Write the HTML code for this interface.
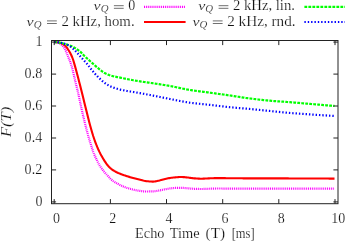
<!DOCTYPE html>
<html><head><meta charset="utf-8"><style>
html,body{margin:0;padding:0;background:#fff;}
svg{display:block;}
text{font-family:"Liberation Serif",serif;font-size:14px;fill:#111;stroke:#fff;stroke-width:.18px;}
.i{font-style:italic;}
</style></head><body>
<svg width="345" height="241" viewBox="0 0 345 241">
<rect width="345" height="241" fill="#fff"/>
<g fill="none" stroke-linejoin="round">
<path d="M54.2,42.10 L55.2,42.15 L56.2,42.27 L57.2,42.44 L58.2,42.70 L59.2,43.16 L60.2,43.72 L61.2,44.42 L62.2,45.30 L63.2,46.41 L64.2,47.86 L65.2,49.56 L66.2,51.68 L67.2,54.13 L68.2,56.72 L69.2,59.25 L70.2,61.76 L71.2,64.56 L72.2,67.99 L73.2,72.13 L74.2,76.55 L75.2,80.83 L76.2,84.93 L77.2,89.03 L78.2,93.25 L79.2,97.73 L80.2,102.50 L81.2,107.27 L82.2,111.75 L83.2,116.03 L84.2,120.17 L85.2,124.21 L86.2,128.16 L87.2,132.03 L88.2,135.73 L89.2,139.20 L90.2,142.44 L91.2,145.55 L92.2,148.65 L93.2,151.78 L94.2,154.49 L95.2,156.67 L96.2,158.78 L97.2,160.93 L98.2,162.98 L99.2,164.83 L100.2,166.44 L101.2,167.91 L102.2,169.28 L103.2,170.57 L104.2,171.81 L105.2,172.98 L106.2,174.10 L107.2,175.18 L108.2,176.26 L109.2,177.36 L110.2,178.50 L111.2,179.54 L112.2,180.36 L113.2,181.10 L114.2,181.77 L115.2,182.40 L116.2,182.98 L117.2,183.54 L118.2,184.08 L119.2,184.61 L120.2,185.11 L121.2,185.60 L122.2,186.06 L123.2,186.49 L124.2,186.90 L125.2,187.27 L126.2,187.62 L127.2,187.95 L128.2,188.27 L129.2,188.56 L130.2,188.84 L131.2,189.10 L132.2,189.35 L133.2,189.59 L134.2,189.82 L135.2,190.04 L136.2,190.25 L137.2,190.45 L138.2,190.63 L139.2,190.79 L140.2,190.93 L141.2,191.06 L142.2,191.19 L143.2,191.31 L144.2,191.41 L145.2,191.48 L146.2,191.50 L147.2,191.50 L148.2,191.49 L149.2,191.47 L150.2,191.46 L151.2,191.43 L152.2,191.41 L153.2,191.37 L154.2,191.28 L155.2,191.16 L156.2,191.01 L157.2,190.85 L158.2,190.68 L159.2,190.52 L160.2,190.33 L161.2,190.11 L162.2,189.89 L163.2,189.67 L164.2,189.45 L165.2,189.26 L166.2,189.08 L167.2,188.90 L168.2,188.73 L169.2,188.56 L170.2,188.42 L171.2,188.30 L172.2,188.19 L173.2,188.08 L174.2,187.98 L175.2,187.89 L176.2,187.83 L177.2,187.80 L178.2,187.80 L179.2,187.80 L180.2,187.80 L181.2,187.80 L182.2,187.82 L183.2,187.88 L184.2,187.97 L185.2,188.07 L186.2,188.18 L187.2,188.27 L188.2,188.36 L189.2,188.45 L190.2,188.54 L191.2,188.63 L192.2,188.71 L193.2,188.78 L194.2,188.82 L195.2,188.86 L196.2,188.90 L197.2,188.93 L198.2,188.96 L199.2,188.98 L200.2,188.99 L201.2,189.00 L202.2,188.99 L203.2,188.97 L204.2,188.94 L205.2,188.90 L206.2,188.85 L207.2,188.81 L208.2,188.77 L209.2,188.73 L210.2,188.69 L211.2,188.66 L212.2,188.63 L213.2,188.60 L214.2,188.57 L215.2,188.54 L216.2,188.52 L217.2,188.50 L218.2,188.50 L219.2,188.50 L220.2,188.51 L221.2,188.52 L222.2,188.53 L223.2,188.54 L224.2,188.55 L225.2,188.57 L226.2,188.59 L227.2,188.60 L228.2,188.62 L229.2,188.64 L230.2,188.65 L231.2,188.66 L232.2,188.68 L233.2,188.69 L234.2,188.69 L235.2,188.70 L236.2,188.70 L237.2,188.70 L238.2,188.70 L239.2,188.70 L240.2,188.70 L241.2,188.70 L242.2,188.70 L243.2,188.70 L244.2,188.70 L245.2,188.70 L246.2,188.70 L247.2,188.70 L248.2,188.70 L249.2,188.70 L250.2,188.70 L251.2,188.70 L252.2,188.70 L253.2,188.70 L254.2,188.70 L255.2,188.70 L256.2,188.70 L257.2,188.70 L258.2,188.70 L259.2,188.70 L260.2,188.70 L261.2,188.70 L262.2,188.70 L263.2,188.70 L264.2,188.70 L265.2,188.70 L266.2,188.70 L267.2,188.70 L268.2,188.70 L269.2,188.70 L270.2,188.70 L271.2,188.70 L272.2,188.70 L273.2,188.70 L274.2,188.70 L275.2,188.70 L276.2,188.70 L277.2,188.70 L278.2,188.70 L279.2,188.70 L280.2,188.70 L281.2,188.70 L282.2,188.70 L283.2,188.70 L284.2,188.70 L285.2,188.70 L286.2,188.70 L287.2,188.70 L288.2,188.70 L289.2,188.70 L290.2,188.70 L291.2,188.70 L292.2,188.70 L293.2,188.70 L294.2,188.70 L295.2,188.70 L296.2,188.70 L297.2,188.70 L298.2,188.70 L299.2,188.70 L300.2,188.70 L301.2,188.70 L302.2,188.70 L303.2,188.70 L304.2,188.70 L305.2,188.70 L306.2,188.70 L307.2,188.70 L308.2,188.70 L309.2,188.70 L310.2,188.70 L311.2,188.70 L312.2,188.70 L313.2,188.70 L314.2,188.70 L315.2,188.70 L316.2,188.70 L317.2,188.70 L318.2,188.70 L319.2,188.70 L320.2,188.70 L321.2,188.70 L322.2,188.70 L323.2,188.70 L324.2,188.70 L325.2,188.70 L326.2,188.70 L327.2,188.70 L328.2,188.70 L329.2,188.70 L330.2,188.70 L331.2,188.70 L332.2,188.70 L333.2,188.70 L334.2,188.70 L334.7,188.70" stroke="#ff00ff" stroke-width="2.2" stroke-dasharray="1 0.9"/>
<path d="M54.2,42.10 L55.2,42.13 L56.2,42.20 L57.2,42.30 L58.2,42.43 L59.2,42.63 L60.2,42.92 L61.2,43.28 L62.2,43.71 L63.2,44.27 L64.2,44.96 L65.2,45.78 L66.2,46.86 L67.2,48.20 L68.2,49.71 L69.2,51.31 L70.2,53.05 L71.2,55.02 L72.2,57.26 L73.2,60.00 L74.2,63.39 L75.2,66.90 L76.2,70.52 L77.2,74.27 L78.2,78.08 L79.2,81.93 L80.2,85.84 L81.2,89.80 L82.2,93.80 L83.2,97.82 L84.2,101.89 L85.2,105.96 L86.2,110.00 L87.2,114.04 L88.2,118.07 L89.2,122.00 L90.2,125.73 L91.2,129.30 L92.2,132.73 L93.2,135.97 L94.2,138.97 L95.2,141.79 L96.2,144.44 L97.2,146.92 L98.2,149.24 L99.2,151.39 L100.2,153.39 L101.2,155.25 L102.2,157.00 L103.2,158.67 L104.2,160.34 L105.2,161.95 L106.2,163.44 L107.2,164.76 L108.2,165.91 L109.2,166.97 L110.2,167.94 L111.2,168.82 L112.2,169.59 L113.2,170.26 L114.2,170.88 L115.2,171.45 L116.2,171.98 L117.2,172.47 L118.2,172.93 L119.2,173.36 L120.2,173.78 L121.2,174.18 L122.2,174.57 L123.2,174.93 L124.2,175.29 L125.2,175.62 L126.2,175.95 L127.2,176.26 L128.2,176.57 L129.2,176.87 L130.2,177.16 L131.2,177.44 L132.2,177.70 L133.2,177.96 L134.2,178.21 L135.2,178.45 L136.2,178.69 L137.2,178.94 L138.2,179.18 L139.2,179.43 L140.2,179.70 L141.2,179.97 L142.2,180.25 L143.2,180.52 L144.2,180.75 L145.2,180.95 L146.2,181.10 L147.2,181.22 L148.2,181.33 L149.2,181.43 L150.2,181.51 L151.2,181.57 L152.2,181.60 L153.2,181.58 L154.2,181.50 L155.2,181.36 L156.2,181.19 L157.2,181.00 L158.2,180.80 L159.2,180.60 L160.2,180.35 L161.2,180.07 L162.2,179.77 L163.2,179.47 L164.2,179.20 L165.2,178.95 L166.2,178.73 L167.2,178.51 L168.2,178.31 L169.2,178.11 L170.2,177.94 L171.2,177.80 L172.2,177.68 L173.2,177.56 L174.2,177.46 L175.2,177.37 L176.2,177.29 L177.2,177.21 L178.2,177.14 L179.2,177.07 L180.2,177.02 L181.2,177.00 L182.2,177.02 L183.2,177.08 L184.2,177.16 L185.2,177.26 L186.2,177.36 L187.2,177.47 L188.2,177.58 L189.2,177.71 L190.2,177.86 L191.2,178.01 L192.2,178.14 L193.2,178.26 L194.2,178.34 L195.2,178.42 L196.2,178.49 L197.2,178.56 L198.2,178.61 L199.2,178.66 L200.2,178.69 L201.2,178.70 L202.2,178.69 L203.2,178.66 L204.2,178.61 L205.2,178.56 L206.2,178.50 L207.2,178.44 L208.2,178.38 L209.2,178.33 L210.2,178.29 L211.2,178.26 L212.2,178.23 L213.2,178.19 L214.2,178.16 L215.2,178.14 L216.2,178.12 L217.2,178.10 L218.2,178.10 L219.2,178.10 L220.2,178.11 L221.2,178.11 L222.2,178.12 L223.2,178.14 L224.2,178.15 L225.2,178.16 L226.2,178.18 L227.2,178.19 L228.2,178.21 L229.2,178.22 L230.2,178.24 L231.2,178.25 L232.2,178.27 L233.2,178.28 L234.2,178.29 L235.2,178.30 L236.2,178.30 L237.2,178.30 L238.2,178.31 L239.2,178.31 L240.2,178.32 L241.2,178.32 L242.2,178.32 L243.2,178.33 L244.2,178.33 L245.2,178.33 L246.2,178.33 L247.2,178.34 L248.2,178.34 L249.2,178.34 L250.2,178.34 L251.2,178.35 L252.2,178.35 L253.2,178.35 L254.2,178.35 L255.2,178.35 L256.2,178.35 L257.2,178.36 L258.2,178.36 L259.2,178.36 L260.2,178.36 L261.2,178.36 L262.2,178.36 L263.2,178.37 L264.2,178.37 L265.2,178.37 L266.2,178.37 L267.2,178.37 L268.2,178.37 L269.2,178.38 L270.2,178.38 L271.2,178.38 L272.2,178.38 L273.2,178.38 L274.2,178.39 L275.2,178.39 L276.2,178.39 L277.2,178.39 L278.2,178.40 L279.2,178.40 L280.2,178.40 L281.2,178.40 L282.2,178.41 L283.2,178.41 L284.2,178.41 L285.2,178.41 L286.2,178.42 L287.2,178.42 L288.2,178.42 L289.2,178.43 L290.2,178.43 L291.2,178.43 L292.2,178.44 L293.2,178.44 L294.2,178.44 L295.2,178.45 L296.2,178.45 L297.2,178.45 L298.2,178.46 L299.2,178.46 L300.2,178.46 L301.2,178.47 L302.2,178.47 L303.2,178.47 L304.2,178.48 L305.2,178.48 L306.2,178.48 L307.2,178.49 L308.2,178.49 L309.2,178.50 L310.2,178.50 L311.2,178.50 L312.2,178.51 L313.2,178.51 L314.2,178.52 L315.2,178.52 L316.2,178.52 L317.2,178.53 L318.2,178.53 L319.2,178.53 L320.2,178.54 L321.2,178.54 L322.2,178.55 L323.2,178.55 L324.2,178.56 L325.2,178.56 L326.2,178.56 L327.2,178.57 L328.2,178.57 L329.2,178.58 L330.2,178.58 L331.2,178.59 L332.2,178.59 L333.2,178.59 L334.2,178.60 L334.5,178.60" stroke="#ff0000" stroke-width="2.1"/>
<path d="M54.2,42.10 L55.2,42.14 L56.2,42.21 L57.2,42.32 L58.2,42.44 L59.2,42.58 L60.2,42.73 L61.2,42.93 L62.2,43.18 L63.2,43.47 L64.2,43.76 L65.2,44.06 L66.2,44.35 L67.2,44.65 L68.2,44.96 L69.2,45.30 L70.2,45.68 L71.2,46.09 L72.2,46.54 L73.2,47.03 L74.2,47.56 L75.2,48.11 L76.2,48.72 L77.2,49.38 L78.2,50.09 L79.2,50.86 L80.2,51.67 L81.2,52.59 L82.2,53.60 L83.2,54.66 L84.2,55.71 L85.2,56.69 L86.2,57.63 L87.2,58.56 L88.2,59.47 L89.2,60.36 L90.2,61.26 L91.2,62.15 L92.2,63.03 L93.2,63.93 L94.2,64.82 L95.2,65.70 L96.2,66.56 L97.2,67.41 L98.2,68.22 L99.2,69.02 L100.2,69.83 L101.2,70.63 L102.2,71.40 L103.2,72.12 L104.2,72.76 L105.2,73.30 L106.2,73.79 L107.2,74.24 L108.2,74.65 L109.2,75.03 L110.2,75.37 L111.2,75.68 L112.2,75.96 L113.2,76.22 L114.2,76.45 L115.2,76.67 L116.2,76.87 L117.2,77.07 L118.2,77.26 L119.2,77.45 L120.2,77.64 L121.2,77.84 L122.2,78.04 L123.2,78.25 L124.2,78.46 L125.2,78.66 L126.2,78.87 L127.2,79.07 L128.2,79.27 L129.2,79.46 L130.2,79.66 L131.2,79.84 L132.2,80.03 L133.2,80.21 L134.2,80.39 L135.2,80.56 L136.2,80.74 L137.2,80.91 L138.2,81.07 L139.2,81.24 L140.2,81.40 L141.2,81.55 L142.2,81.71 L143.2,81.85 L144.2,81.99 L145.2,82.13 L146.2,82.27 L147.2,82.40 L148.2,82.54 L149.2,82.68 L150.2,82.83 L151.2,82.98 L152.2,83.13 L153.2,83.28 L154.2,83.43 L155.2,83.58 L156.2,83.74 L157.2,83.89 L158.2,84.04 L159.2,84.20 L160.2,84.36 L161.2,84.52 L162.2,84.68 L163.2,84.84 L164.2,85.01 L165.2,85.17 L166.2,85.34 L167.2,85.51 L168.2,85.68 L169.2,85.86 L170.2,86.04 L171.2,86.22 L172.2,86.41 L173.2,86.61 L174.2,86.81 L175.2,87.02 L176.2,87.23 L177.2,87.44 L178.2,87.65 L179.2,87.87 L180.2,88.08 L181.2,88.30 L182.2,88.51 L183.2,88.72 L184.2,88.93 L185.2,89.13 L186.2,89.32 L187.2,89.51 L188.2,89.69 L189.2,89.87 L190.2,90.03 L191.2,90.19 L192.2,90.34 L193.2,90.49 L194.2,90.63 L195.2,90.77 L196.2,90.91 L197.2,91.05 L198.2,91.18 L199.2,91.31 L200.2,91.43 L201.2,91.56 L202.2,91.69 L203.2,91.81 L204.2,91.94 L205.2,92.07 L206.2,92.20 L207.2,92.33 L208.2,92.46 L209.2,92.59 L210.2,92.73 L211.2,92.86 L212.2,93.00 L213.2,93.14 L214.2,93.28 L215.2,93.42 L216.2,93.55 L217.2,93.69 L218.2,93.83 L219.2,93.97 L220.2,94.11 L221.2,94.25 L222.2,94.39 L223.2,94.53 L224.2,94.67 L225.2,94.81 L226.2,94.95 L227.2,95.10 L228.2,95.24 L229.2,95.38 L230.2,95.53 L231.2,95.68 L232.2,95.83 L233.2,95.98 L234.2,96.13 L235.2,96.29 L236.2,96.45 L237.2,96.60 L238.2,96.76 L239.2,96.92 L240.2,97.08 L241.2,97.23 L242.2,97.39 L243.2,97.54 L244.2,97.69 L245.2,97.84 L246.2,97.98 L247.2,98.13 L248.2,98.26 L249.2,98.40 L250.2,98.53 L251.2,98.65 L252.2,98.78 L253.2,98.90 L254.2,99.02 L255.2,99.14 L256.2,99.26 L257.2,99.38 L258.2,99.49 L259.2,99.60 L260.2,99.72 L261.2,99.83 L262.2,99.93 L263.2,100.04 L264.2,100.14 L265.2,100.24 L266.2,100.34 L267.2,100.44 L268.2,100.54 L269.2,100.63 L270.2,100.72 L271.2,100.80 L272.2,100.89 L273.2,100.97 L274.2,101.05 L275.2,101.13 L276.2,101.20 L277.2,101.27 L278.2,101.35 L279.2,101.42 L280.2,101.49 L281.2,101.56 L282.2,101.63 L283.2,101.70 L284.2,101.77 L285.2,101.84 L286.2,101.91 L287.2,101.99 L288.2,102.06 L289.2,102.14 L290.2,102.22 L291.2,102.30 L292.2,102.38 L293.2,102.46 L294.2,102.54 L295.2,102.63 L296.2,102.71 L297.2,102.80 L298.2,102.88 L299.2,102.97 L300.2,103.05 L301.2,103.14 L302.2,103.23 L303.2,103.31 L304.2,103.40 L305.2,103.49 L306.2,103.57 L307.2,103.66 L308.2,103.75 L309.2,103.83 L310.2,103.92 L311.2,104.00 L312.2,104.09 L313.2,104.17 L314.2,104.26 L315.2,104.34 L316.2,104.43 L317.2,104.52 L318.2,104.60 L319.2,104.69 L320.2,104.77 L321.2,104.86 L322.2,104.94 L323.2,105.03 L324.2,105.11 L325.2,105.20 L326.2,105.29 L327.2,105.37 L328.2,105.46 L329.2,105.54 L330.2,105.63 L331.2,105.72 L332.2,105.80 L333.2,105.89 L334.2,105.97 L334.5,106.00" stroke="#00ff00" stroke-width="2.2" stroke-dasharray="2.8 1.2"/>
<path d="M54.2,42.10 L55.2,42.12 L56.2,42.18 L57.2,42.26 L58.2,42.37 L59.2,42.50 L60.2,42.63 L61.2,42.81 L62.2,43.04 L63.2,43.32 L64.2,43.63 L65.2,43.97 L66.2,44.35 L67.2,44.79 L68.2,45.28 L69.2,45.83 L70.2,46.42 L71.2,47.12 L72.2,47.93 L73.2,48.81 L74.2,49.74 L75.2,50.69 L76.2,51.71 L77.2,52.80 L78.2,53.94 L79.2,55.10 L80.2,56.27 L81.2,57.40 L82.2,58.50 L83.2,59.58 L84.2,60.66 L85.2,61.75 L86.2,62.87 L87.2,64.04 L88.2,65.28 L89.2,66.62 L90.2,67.99 L91.2,69.30 L92.2,70.52 L93.2,71.70 L94.2,72.85 L95.2,73.97 L96.2,75.05 L97.2,76.10 L98.2,77.10 L99.2,78.08 L100.2,79.04 L101.2,79.98 L102.2,80.88 L103.2,81.73 L104.2,82.52 L105.2,83.24 L106.2,83.92 L107.2,84.57 L108.2,85.18 L109.2,85.75 L110.2,86.27 L111.2,86.73 L112.2,87.14 L113.2,87.52 L114.2,87.87 L115.2,88.20 L116.2,88.52 L117.2,88.81 L118.2,89.09 L119.2,89.35 L120.2,89.60 L121.2,89.83 L122.2,90.05 L123.2,90.26 L124.2,90.45 L125.2,90.64 L126.2,90.81 L127.2,90.98 L128.2,91.15 L129.2,91.31 L130.2,91.48 L131.2,91.65 L132.2,91.82 L133.2,91.99 L134.2,92.16 L135.2,92.33 L136.2,92.49 L137.2,92.66 L138.2,92.83 L139.2,93.00 L140.2,93.17 L141.2,93.35 L142.2,93.53 L143.2,93.71 L144.2,93.89 L145.2,94.08 L146.2,94.27 L147.2,94.46 L148.2,94.65 L149.2,94.85 L150.2,95.04 L151.2,95.23 L152.2,95.43 L153.2,95.63 L154.2,95.83 L155.2,96.03 L156.2,96.23 L157.2,96.43 L158.2,96.64 L159.2,96.84 L160.2,97.04 L161.2,97.25 L162.2,97.45 L163.2,97.65 L164.2,97.85 L165.2,98.06 L166.2,98.26 L167.2,98.45 L168.2,98.65 L169.2,98.85 L170.2,99.04 L171.2,99.23 L172.2,99.43 L173.2,99.63 L174.2,99.83 L175.2,100.03 L176.2,100.23 L177.2,100.43 L178.2,100.63 L179.2,100.83 L180.2,101.02 L181.2,101.22 L182.2,101.41 L183.2,101.59 L184.2,101.77 L185.2,101.95 L186.2,102.12 L187.2,102.28 L188.2,102.44 L189.2,102.59 L190.2,102.73 L191.2,102.86 L192.2,102.99 L193.2,103.11 L194.2,103.23 L195.2,103.35 L196.2,103.46 L197.2,103.57 L198.2,103.68 L199.2,103.78 L200.2,103.88 L201.2,103.99 L202.2,104.09 L203.2,104.19 L204.2,104.29 L205.2,104.39 L206.2,104.49 L207.2,104.60 L208.2,104.70 L209.2,104.81 L210.2,104.92 L211.2,105.04 L212.2,105.15 L213.2,105.27 L214.2,105.39 L215.2,105.50 L216.2,105.62 L217.2,105.74 L218.2,105.86 L219.2,105.98 L220.2,106.10 L221.2,106.22 L222.2,106.34 L223.2,106.46 L224.2,106.57 L225.2,106.68 L226.2,106.80 L227.2,106.91 L228.2,107.01 L229.2,107.12 L230.2,107.22 L231.2,107.32 L232.2,107.42 L233.2,107.51 L234.2,107.60 L235.2,107.69 L236.2,107.78 L237.2,107.87 L238.2,107.96 L239.2,108.05 L240.2,108.13 L241.2,108.22 L242.2,108.30 L243.2,108.39 L244.2,108.48 L245.2,108.56 L246.2,108.65 L247.2,108.74 L248.2,108.83 L249.2,108.92 L250.2,109.02 L251.2,109.11 L252.2,109.21 L253.2,109.31 L254.2,109.41 L255.2,109.51 L256.2,109.60 L257.2,109.70 L258.2,109.80 L259.2,109.91 L260.2,110.01 L261.2,110.11 L262.2,110.21 L263.2,110.31 L264.2,110.41 L265.2,110.52 L266.2,110.62 L267.2,110.72 L268.2,110.82 L269.2,110.92 L270.2,111.02 L271.2,111.12 L272.2,111.22 L273.2,111.33 L274.2,111.43 L275.2,111.54 L276.2,111.64 L277.2,111.75 L278.2,111.86 L279.2,111.96 L280.2,112.06 L281.2,112.17 L282.2,112.27 L283.2,112.37 L284.2,112.47 L285.2,112.57 L286.2,112.66 L287.2,112.76 L288.2,112.85 L289.2,112.93 L290.2,113.02 L291.2,113.10 L292.2,113.18 L293.2,113.25 L294.2,113.33 L295.2,113.40 L296.2,113.47 L297.2,113.54 L298.2,113.61 L299.2,113.68 L300.2,113.75 L301.2,113.82 L302.2,113.88 L303.2,113.95 L304.2,114.02 L305.2,114.08 L306.2,114.15 L307.2,114.21 L308.2,114.28 L309.2,114.35 L310.2,114.41 L311.2,114.48 L312.2,114.55 L313.2,114.62 L314.2,114.68 L315.2,114.75 L316.2,114.82 L317.2,114.88 L318.2,114.95 L319.2,115.01 L320.2,115.08 L321.2,115.15 L322.2,115.21 L323.2,115.28 L324.2,115.34 L325.2,115.41 L326.2,115.47 L327.2,115.54 L328.2,115.60 L329.2,115.66 L330.2,115.73 L331.2,115.79 L332.2,115.86 L333.2,115.92 L334.2,115.98 L334.5,116.00" stroke="#0000ff" stroke-width="2.2" stroke-dasharray="1.4 1.95"/>
</g>
<g stroke="#222" stroke-width="1" fill="none">
<rect x="51.5" y="40.5" width="286.5" height="163.2"/>
<path d="M54.2,203.7 v-4.6 M54.2,40.5 v4.6"/><path d="M110.4,203.7 v-4.6 M110.4,40.5 v4.6"/><path d="M166.5,203.7 v-4.6 M166.5,40.5 v4.6"/><path d="M222.7,203.7 v-4.6 M222.7,40.5 v4.6"/><path d="M278.8,203.7 v-4.6 M278.8,40.5 v4.6"/><path d="M335.0,203.7 v-4.6 M335.0,40.5 v4.6"/><path d="M51.5,201.9 h4.6 M338.0,201.9 h-4.6"/><path d="M51.5,169.9 h4.6 M338.0,169.9 h-4.6"/><path d="M51.5,138.0 h4.6 M338.0,138.0 h-4.6"/><path d="M51.5,106.0 h4.6 M338.0,106.0 h-4.6"/><path d="M51.5,74.1 h4.6 M338.0,74.1 h-4.6"/><path d="M51.5,42.1 h4.6 M338.0,42.1 h-4.6"/>
</g>
<g fill="none">
<path d="M144,6.9 H185.6" stroke="#ff00ff" stroke-width="2.2" stroke-dasharray="1 0.9"/>
<path d="M144,22 H185.6" stroke="#ff0000" stroke-width="2.1"/>
<path d="M304.4,6.9 H346" stroke="#00ff00" stroke-width="2.2" stroke-dasharray="2.8 1.2"/>
<path d="M304.4,22 H346" stroke="#0000ff" stroke-width="2.2" stroke-dasharray="1.4 1.95"/>
</g>
<filter id="gs" filterUnits="userSpaceOnUse" x="0" y="0" width="345" height="241"><feOffset dx="0" dy="0"/></filter>
<g filter="url(#gs)">
<text x="56.6" y="222.6" text-anchor="middle">0</text><text x="112.8" y="222.6" text-anchor="middle">2</text><text x="168.9" y="222.6" text-anchor="middle">4</text><text x="225.1" y="222.6" text-anchor="middle">6</text><text x="281.2" y="222.6" text-anchor="middle">8</text><text x="331.3" y="222.6" textLength="14" lengthAdjust="spacingAndGlyphs">10</text>
<text x="42.4" y="206.0" text-anchor="end">0</text><text x="24.6" y="174.0" textLength="17.6" lengthAdjust="spacingAndGlyphs">0.2</text><text x="24.6" y="142.1" textLength="17.6" lengthAdjust="spacingAndGlyphs">0.4</text><text x="24.6" y="110.1" textLength="17.6" lengthAdjust="spacingAndGlyphs">0.6</text><text x="24.6" y="78.2" textLength="17.6" lengthAdjust="spacingAndGlyphs">0.8</text><text x="42.4" y="46.2" text-anchor="end">1</text>
<text class="i" x="93.5" y="10.3" style="font-size:13px" textLength="7.1" lengthAdjust="spacingAndGlyphs">ν</text><text class="i" x="100.7" y="12.3" style="font-size:9.5px" textLength="7.8" lengthAdjust="spacingAndGlyphs">Q</text><path d="M113.9,5.7 h9.8 M113.9,8.3 h9.8" stroke="#222" stroke-width="0.65" fill="none"/><text x="128.3" y="10.3">0</text><text class="i" x="26.6" y="25.5" style="font-size:13px" textLength="7.1" lengthAdjust="spacingAndGlyphs">ν</text><text class="i" x="33.8" y="27.5" style="font-size:9.5px" textLength="7.8" lengthAdjust="spacingAndGlyphs">Q</text><path d="M47.0,20.9 h9.8 M47.0,23.5 h9.8" stroke="#222" stroke-width="0.65" fill="none"/><text x="61.4" y="25.5" textLength="73.2" lengthAdjust="spacingAndGlyphs">2 kHz, hom.</text><text class="i" x="198.2" y="10.3" style="font-size:13px" textLength="7.1" lengthAdjust="spacingAndGlyphs">ν</text><text class="i" x="205.3" y="12.3" style="font-size:9.5px" textLength="7.8" lengthAdjust="spacingAndGlyphs">Q</text><path d="M218.6,5.7 h9.8 M218.6,8.3 h9.8" stroke="#222" stroke-width="0.65" fill="none"/><text x="232.9" y="10.3" textLength="62.1" lengthAdjust="spacingAndGlyphs">2 kHz, lin.</text><text class="i" x="192.4" y="25.5" style="font-size:13px" textLength="7.1" lengthAdjust="spacingAndGlyphs">ν</text><text class="i" x="199.6" y="27.5" style="font-size:9.5px" textLength="7.8" lengthAdjust="spacingAndGlyphs">Q</text><path d="M212.8,20.9 h9.8 M212.8,23.5 h9.8" stroke="#222" stroke-width="0.65" fill="none"/><text x="227.2" y="25.5" textLength="68.4" lengthAdjust="spacingAndGlyphs">2 kHz, rnd.</text>
<text x="135.1" y="237.5" textLength="29.4" lengthAdjust="spacingAndGlyphs">Echo</text><text x="169.7" y="237.5" textLength="29.9" lengthAdjust="spacingAndGlyphs">Time</text><text x="205.6" y="237.5" textLength="19.6" lengthAdjust="spacingAndGlyphs">(T)</text><text x="231.7" y="237.5" textLength="23" lengthAdjust="spacingAndGlyphs">[ms]</text>
<text class="i" style="font-size:14px" transform="translate(10.6,137) rotate(-90)" textLength="30.3" lengthAdjust="spacingAndGlyphs">F(T)</text>
</g>
</svg>
</body></html>
